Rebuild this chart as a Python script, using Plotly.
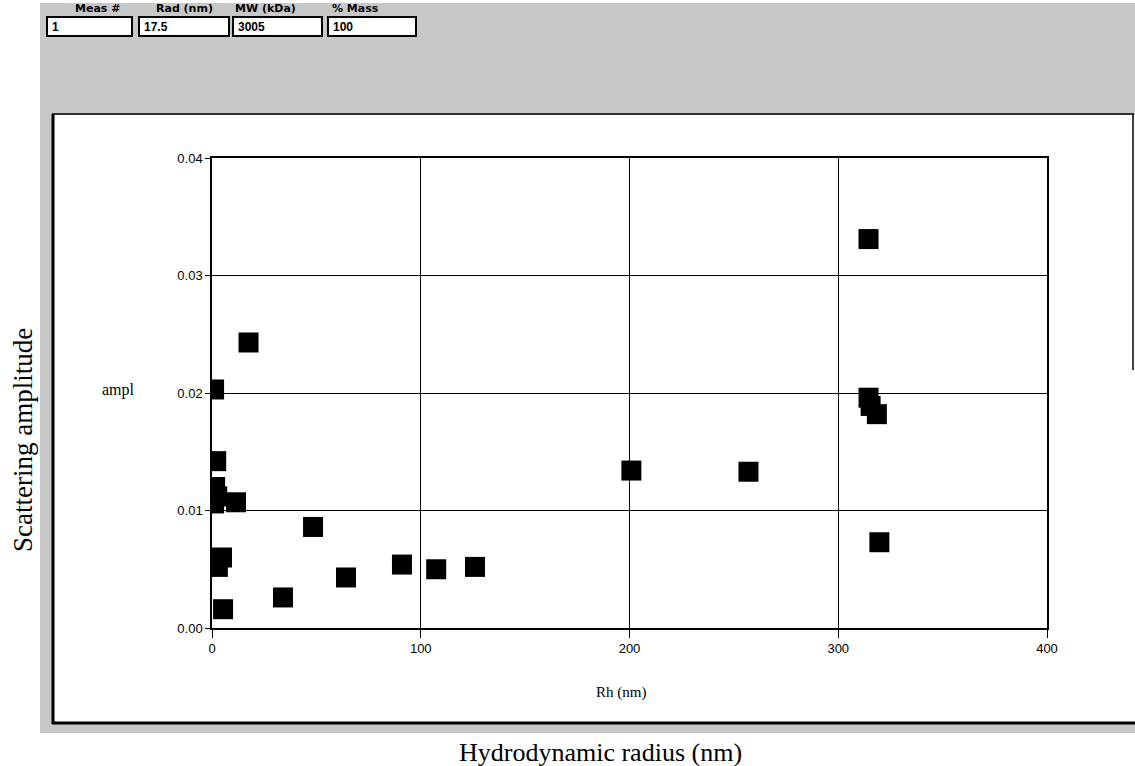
import plotly.graph_objects as go

# ---- data ----
rh_nm = [314.5, 17.5, 1.0, 2.0, 1.5, 1.0, 2.5, 11.5, 48.4, 4.8, 2.8, 5.3, 34.0,
         64.2, 91.0, 107.4, 126.0, 200.9, 257.0, 314.5, 315.5, 318.5, 319.7]
ampl = [0.0331, 0.0243, 0.0203, 0.0142, 0.0120, 0.0106, 0.0112, 0.0107, 0.0086,
        0.0060, 0.0052, 0.0016, 0.0026, 0.0043, 0.0054, 0.0050, 0.0052, 0.0134,
        0.0133, 0.0196, 0.0189, 0.0182, 0.0073]
x_ticks = [0, 100, 200, 300, 400]
y_ticks = [0.00, 0.01, 0.02, 0.03, 0.04]
header_labels = ["Meas #", "Rad (nm)", "MW (kDa)", "% Mass"]
header_values = ["1", "17.5", "3005", "100"]

W, H = 1135, 766
L, R, T, B = 212, 88, 158, 138
PW, PH = W - L - R, H - T - B


def px(x):
    return (x - L) / PW


def py(y):
    return (H - B - y) / PH


fig = go.Figure()
fig.add_trace(go.Scatter(
    x=rh_nm, y=ampl, mode="markers",
    marker=dict(symbol="square", size=20, color="black", line=dict(width=0)),
    showlegend=False, hoverinfo="x+y"))

shapes = []
# gray dithered screen area
shapes.append(dict(type="rect", xref="paper", yref="paper", layer="below",
                   x0=px(40), x1=px(1140), y0=py(3), y1=py(733),
                   fillcolor="#c8c8c8", line=dict(width=0)))
# white panel
shapes.append(dict(type="rect", xref="paper", yref="paper", layer="below",
                   x0=px(53), x1=px(1140), y0=py(115), y1=py(723),
                   fillcolor="white", line=dict(width=0)))
# panel borders
shapes.append(dict(type="line", xref="paper", yref="paper", layer="below",
                   x0=px(53), x1=px(53), y0=py(114), y1=py(724),
                   line=dict(color="black", width=3)))
shapes.append(dict(type="line", xref="paper", yref="paper", layer="below",
                   x0=px(52), x1=px(1140), y0=py(723), y1=py(723),
                   line=dict(color="black", width=3)))
shapes.append(dict(type="line", xref="paper", yref="paper", layer="below",
                   x0=px(52), x1=px(1134), y0=py(114), y1=py(114),
                   line=dict(color="black", width=1.5)))
shapes.append(dict(type="line", xref="paper", yref="paper", layer="below",
                   x0=px(1133), x1=px(1133), y0=py(114), y1=py(370),
                   line=dict(color="black", width=1.5)))

# header boxes
box_x = [(47, 132), (139, 229), (233, 322), (328, 416)]
label_cx = [97, 184, 265, 355]
annotations = []
for (bx0, bx1), lab, val, cx in zip(box_x, header_labels, header_values, label_cx):
    shapes.append(dict(type="rect", xref="paper", yref="paper", layer="below",
                       x0=px(bx0), x1=px(bx1), y0=py(17), y1=py(36),
                       fillcolor="white", line=dict(color="black", width=2)))
    annotations.append(dict(x=px(cx), y=py(8), xref="paper", yref="paper",
                            text="<b>%s</b>" % lab, showarrow=False,
                            xanchor="center", yanchor="middle",
                            font=dict(family="DejaVu Sans", size=11, color="black")))
    annotations.append(dict(x=px(bx0 + 3), y=py(27), xref="paper", yref="paper",
                            text="<b>%s</b>" % val, showarrow=False,
                            xanchor="left", yanchor="middle",
                            font=dict(family="Liberation Sans", size=12, color="black")))

serif = "Liberation Serif"
annotations += [
    dict(x=px(621), y=py(692), xref="paper", yref="paper", text="Rh (nm)",
         showarrow=False, xanchor="center", yanchor="middle",
         font=dict(family=serif, size=15, color="black")),
    dict(x=px(118), y=py(390), xref="paper", yref="paper", text="ampl",
         showarrow=False, xanchor="center", yanchor="middle",
         font=dict(family=serif, size=16, color="black")),
    dict(x=px(23), y=py(440), xref="paper", yref="paper", text="Scattering amplitude",
         showarrow=False, textangle=-90, xanchor="center", yanchor="middle",
         font=dict(family=serif, size=27, color="black")),
    dict(x=px(600), y=py(752), xref="paper", yref="paper",
         text="Hydrodynamic radius (nm)", showarrow=False,
         xanchor="center", yanchor="middle",
         font=dict(family=serif, size=26, color="black")),
]

axis_common = dict(showgrid=True, gridcolor="black", gridwidth=1, zeroline=False,
                   showline=True, linecolor="black", linewidth=1.5, mirror=True,
                   ticks="outside", tickcolor="black",
                   tickfont=dict(family="Liberation Sans", size=13, color="black"))

fig.update_layout(
    width=W, height=H, autosize=False,
    margin=dict(l=L, r=R, t=T, b=B, pad=0),
    paper_bgcolor="white", plot_bgcolor="white",
    xaxis=dict(range=[0, 400], tickvals=x_ticks, ticklen=8, **axis_common),
    yaxis=dict(range=[0, 0.04], tickvals=y_ticks, tickformat=".2f", ticklen=5,
               **axis_common),
    shapes=shapes, annotations=annotations,
)

fig.write_html("out.html")
